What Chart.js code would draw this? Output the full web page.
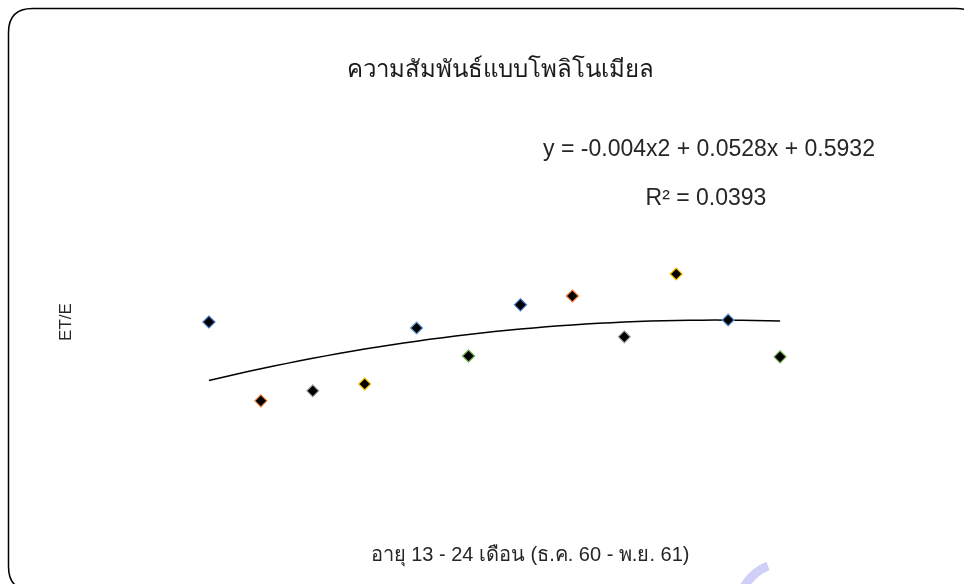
<!DOCTYPE html>
<html>
<head>
<meta charset="utf-8">
<script src="https://cdn.jsdelivr.net/npm/chart.js@4.4.1/dist/chart.umd.min.js"></script>
<style>
  html, body { margin: 0; padding: 0; background: #ffffff; }
  #wrap { width: 964px; height: 584px; }
</style>
</head>
<body>
<div id="wrap"><canvas id="c" width="964" height="584"></canvas></div>
<script>
// ---- data ----
const monthIndex = [1, 2, 3, 4, 5, 6, 7, 8, 9, 10, 11, 12];
const etRatio = [0.770, 0.573, 0.598, 0.615, 0.755, 0.685, 0.813, 0.835, 0.733, 0.890, 0.775, 0.683];
const pointBorderColors = ['#4472C4', '#ED7D31', '#A5A5A5', '#FFC000', '#5B9BD5', '#70AD47',
                           '#4472C4', '#ED7D31', '#A5A5A5', '#FFC000', '#5B9BD5', '#70AD47'];
const titleText = 'ความสัมพันธ์แบบโพลิโนเมียล';
const xAxisTitle = 'อายุ 13 - 24 เดือน (ธ.ค. 60 - พ.ย. 61)';
const yAxisTitle = 'ET/E';
const equationText = 'y = -0.004x2 + 0.0528x + 0.5932';
const r2Text = 'R² = 0.0393';

// ---- polynomial (order 2) least-squares trendline from the data ----
function polyFit2(xs, ys) {
  let n = xs.length, s = [0,0,0,0,0], t = [0,0,0];
  for (let i = 0; i < n; i++) {
    let p = 1;
    for (let k = 0; k < 5; k++) { s[k] += p; if (k < 3) t[k] += p * ys[i]; p *= xs[i]; }
  }
  const A = [[s[0], s[1], s[2], t[0]], [s[1], s[2], s[3], t[1]], [s[2], s[3], s[4], t[2]]];
  for (let i = 0; i < 3; i++) {
    for (let j = i + 1; j < 3; j++) {
      const f = A[j][i] / A[i][i];
      for (let k = i; k < 4; k++) A[j][k] -= f * A[i][k];
    }
  }
  const c = [0,0,0];
  for (let i = 2; i >= 0; i--) {
    let v = A[i][3];
    for (let k = i + 1; k < 3; k++) v -= A[i][k] * c[k];
    c[i] = v / A[i][i];
  }
  return c; // c0 + c1 x + c2 x^2
}
const coef = polyFit2(monthIndex, etRatio);
const trendPoints = [];
for (let x = monthIndex[0]; x <= monthIndex[monthIndex.length - 1] + 1e-9; x += 0.25) {
  trendPoints.push({ x: x, y: coef[0] + coef[1] * x + coef[2] * x * x });
}

const scatterPoints = monthIndex.map((m, i) => ({ x: m, y: etRatio[i] }));

const FONT = "'Liberation Sans', 'DejaVu Sans', Arial, sans-serif";

const decor = {
  id: 'decor',
  beforeDraw(chart) {
    const ctx = chart.ctx;
    ctx.save();
    ctx.fillStyle = '#ffffff';
    ctx.fillRect(0, 0, chart.width, chart.height);
    // rounded frame (extends past right and bottom edges)
    const x = 8.5, y = 8.5, w = 972, h = 582, r = 24;
    ctx.beginPath();
    ctx.moveTo(x + r, y);
    ctx.lineTo(x + w - r, y);
    ctx.quadraticCurveTo(x + w, y, x + w, y + r);
    ctx.lineTo(x + w, y + h - r);
    ctx.quadraticCurveTo(x + w, y + h, x + w - r, y + h);
    ctx.lineTo(x + r, y + h);
    ctx.quadraticCurveTo(x, y + h, x, y + h - r);
    ctx.lineTo(x, y + r);
    ctx.quadraticCurveTo(x, y, x + r, y);
    ctx.strokeStyle = '#000000';
    ctx.lineWidth = 1.5;
    ctx.stroke();
    // faint watermark stroke at the bottom
    ctx.beginPath();
    ctx.moveTo(742, 590);
    ctx.quadraticCurveTo(752, 572, 768, 566);
    ctx.strokeStyle = '#cfcff7';
    ctx.lineWidth = 9;
    ctx.stroke();
    ctx.restore();
  },
  afterDraw(chart) {
    const ctx = chart.ctx;
    ctx.save();
    ctx.fillStyle = '#1a1a1a';
    ctx.textAlign = 'center';
    ctx.textBaseline = 'middle';
    ctx.font = '24px ' + FONT;
    ctx.fillText(titleText, 500, 70);
    ctx.fillStyle = '#262626';
    ctx.font = '23px ' + FONT;
    ctx.fillText(equationText, 709, 150);
    ctx.fillText(r2Text, 706, 199);
    ctx.font = '20px ' + FONT;
    ctx.fillText(xAxisTitle, 530, 555);
    ctx.translate(66, 322);
    ctx.rotate(-Math.PI / 2);
    ctx.font = '17px ' + FONT;
    ctx.fillText(yAxisTitle, 0, 0);
    ctx.restore();
  }
};

new Chart(document.getElementById('c'), {
  type: 'scatter',
  data: {
    datasets: [
      {
        label: 'trend',
        data: trendPoints,
        showLine: true,
        borderColor: '#000000',
        borderWidth: 1.5,
        pointRadius: 0,
        fill: false,
        tension: 0,
        order: 2
      },
      {
        label: 'ET/E',
        data: scatterPoints,
        pointStyle: 'rectRot',
        pointRadius: 6,
        pointHoverRadius: 6,
        backgroundColor: '#000000',
        borderColor: pointBorderColors,
        pointBorderWidth: 1.2,
        order: 1
      }
    ]
  },
  options: {
    responsive: false,
    animation: false,
    events: [],
    layout: { padding: { left: 157, right: 132, top: 150, bottom: 114 } },
    plugins: { legend: { display: false }, title: { display: false }, tooltip: { enabled: false } },
    scales: {
      x: { type: 'linear', min: 0, max: 13, display: false },
      y: { type: 'linear', min: 0.4, max: 1.2, display: false }
    }
  },
  plugins: [decor]
});
</script>
</body>
</html>
